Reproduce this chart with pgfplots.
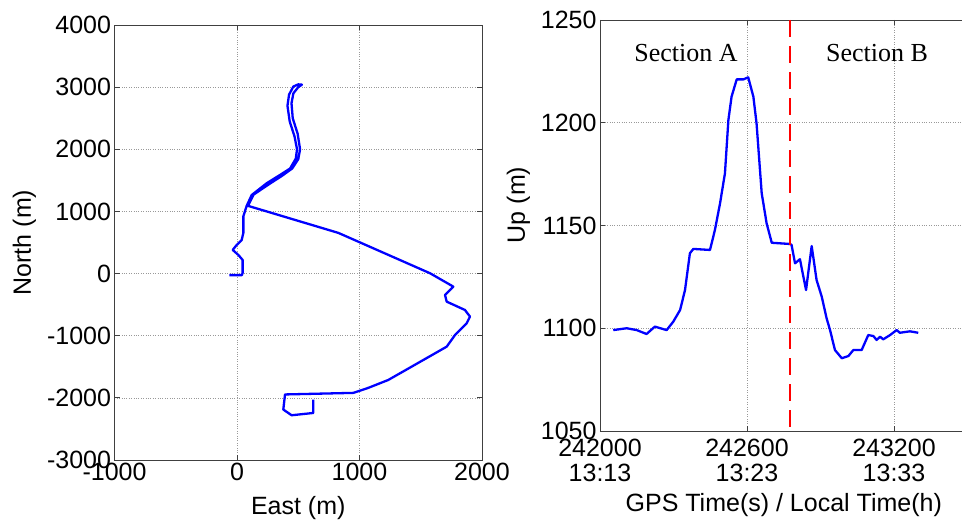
\documentclass[border=0pt]{standalone}
\usepackage{fontspec}
\setmainfont{Liberation Sans}
\newfontfamily\tnr{Liberation Serif}
\usepackage{pgfplots}
\pgfplotsset{compat=1.18}
\begin{document}
\begin{tikzpicture}
\useasboundingbox (0pt,0pt) rectangle (962pt,520pt);
\pgfplotsset{
 every axis/.append style={
  scale only axis, width=367.5pt,
  font=\fontsize{25}{25}\selectfont,
  /pgf/number format/assume math mode=true,
  /pgf/number format/1000 sep={},
  scaled ticks=false,
  grid=major,
  major grid style={dotted, gray!80, line width=0.7pt},
  axis line style={black!75, line width=0.8pt},
  tick style={black!75, line width=0.8pt},
  tick align=inside,
  major tick length=5pt,
 }
}
\begin{axis}[at={(114.5pt,60pt)}, anchor=south west, height=435pt,
  xmin=-1000, xmax=2000, ymin=-3000, ymax=4000,
  xtick={-1000,0,1000,2000}, ytick={-3000,-2000,...,4000},
  xlabel={East (m)}, ylabel={North (m)},
  xlabel style={yshift=-8pt}, ylabel style={yshift=4pt}]
\addplot[blue, line width=2.3pt, line join=round] coordinates {
(-63,-25) (40,-25) (46,10) (46,219) (11,300) (-35,380) (-3,460) (38,540)
(52,655) (52,922) (79,1090)
(120,1264) (242,1453) (351,1587) (433,1690) (480,1850) (490,2000) (470,2204)
(430,2450) (412,2700) (425,2880) (460,3010) (500,3045)
(530,3040) (500,3000) (460,2900) (445,2740) (455,2500) (495,2250) (515,2000)
(500,1840) (450,1690) (365,1570) (255,1430) (135,1270) (90,1090)
(827,655) (1576,5) (1766,-210) (1698,-344) (1712,-452) (1861,-586) (1902,-693)
(1875,-800) (1780,-988) (1712,-1176) (1235,-1712) (1072,-1839) (949,-1920)
(392,-1945) (378,-2188) (446,-2280) (623,-2243) (623,-2028)
};
\end{axis}
\begin{axis}[at={(600pt,89pt)}, anchor=south west, height=411pt,
  xmin=242000, xmax=243500, ymin=1050, ymax=1250,
  xtick={242000,242600,243200},
  xticklabels={{242000\\13:13},{242600\\13:23},{243200\\13:33}},
  xticklabel style={align=center, yshift=-5pt},
  ytick={1050,1100,...,1250},
  xlabel={GPS Time(s) / Local Time(h)}, ylabel={Up (m)},
  xlabel style={yshift=-4pt},
  ylabel style={at={(ticklabel cs:0.55)}, yshift=4pt}]
\addplot[blue, line width=2.3pt, line join=round] coordinates {
(242054,1099.1) (242109,1100.0) (242150,1099.1) (242190,1097.2) (242224,1100.8)
(242272,1099.1) (242299,1103.2) (242327,1108.9) (242347,1118.6) (242367,1136.5)
(242381,1138.6) (242449,1138.1) (242469,1147.8) (242490,1160.8) (242510,1175.4)
(242524,1201.3) (242537,1212.7) (242558,1221.1) (242585,1221.1) (242605,1222.1)
(242626,1212.7) (242639,1199.7) (242660,1165.7) (242680,1151.1) (242701,1141.6)
(242776,1141.0) (242782,1140.5) (242796,1131.6) (242816,1133.6) (242841,1118.6)
(242864,1140.0) (242884,1123.5) (242905,1115.4) (242925,1104.8) (242939,1099.1)
(242959,1089.4) (242987,1085.4) (243014,1086.5) (243034,1089.4) (243068,1089.4)
(243095,1096.7) (243116,1096.2) (243129,1094.3) (243143,1095.9) (243156,1094.6)
(243184,1096.7) (243211,1099.1) (243224,1097.8) (243265,1098.5) (243299,1097.8)
};
\addplot[red, line width=2.3pt, dash pattern=on 17pt off 9pt] coordinates {(242775,1250) (242775,1050)};
\node[font=\tnr\fontsize{26}{26}\selectfont] at (axis cs:242351,1234) {Section A};
\node[font=\tnr\fontsize{26}{26}\selectfont] at (axis cs:243131,1234) {Section B};
\end{axis}
\end{tikzpicture}
\end{document}
